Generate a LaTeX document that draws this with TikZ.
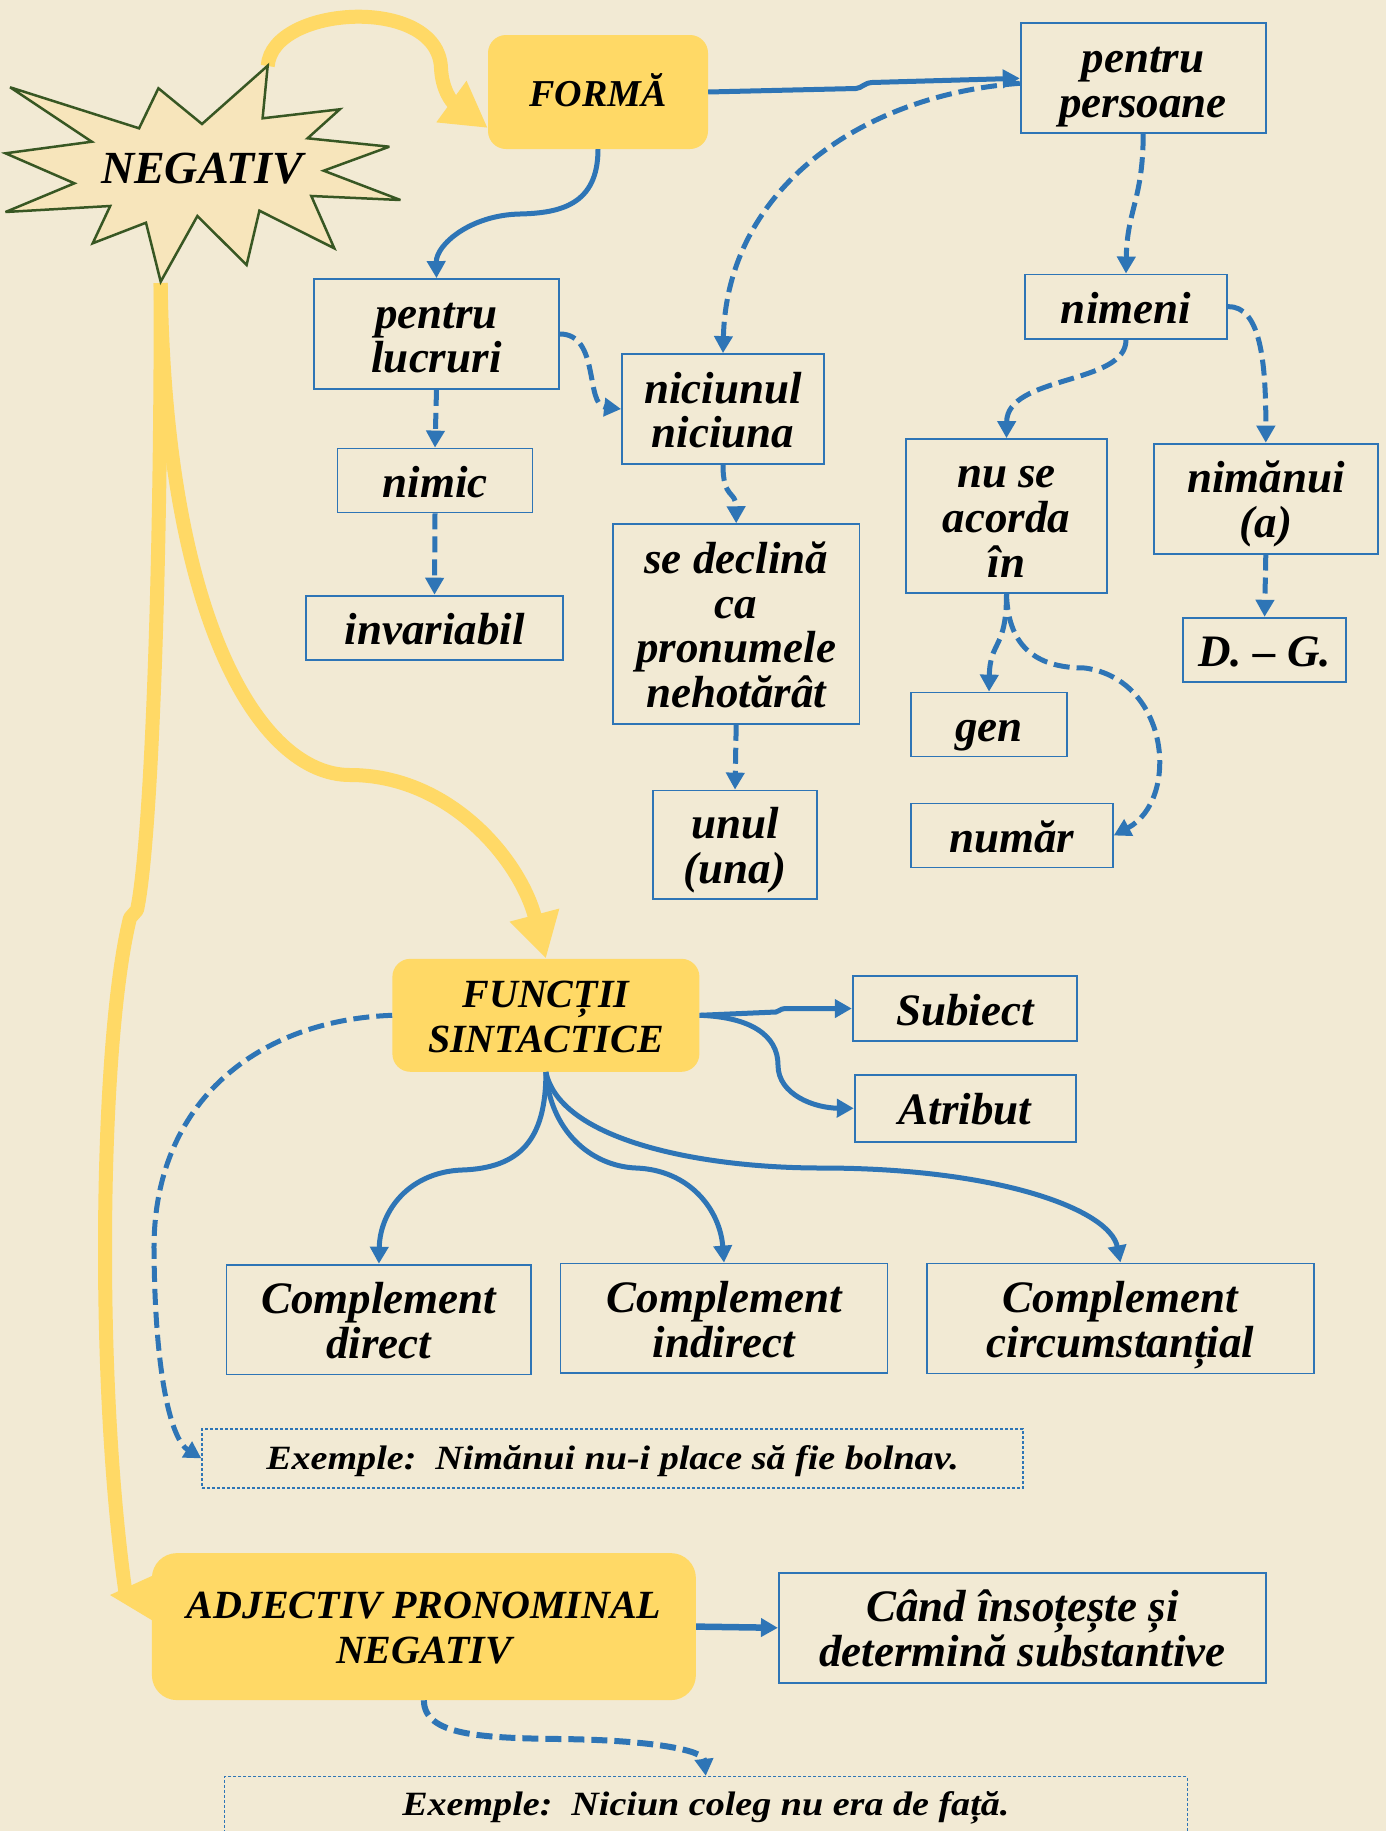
\documentclass[tikz,border=0pt]{standalone}
\usepackage{fontspec}
\setmainfont{Liberation Serif}
\newfontfamily\exfam[FakeStretch=1.12]{Liberation Serif}
\usetikzlibrary{arrows.meta}
\definecolor{bgc}{RGB}{242,234,212}
\definecolor{myyellow}{RGB}{255,217,102}
\definecolor{myblue}{RGB}{46,117,182}
\definecolor{starfill}{RGB}{247,229,187}
\definecolor{stargreen}{RGB}{56,87,35}
\newcommand\mybodyfont{\fontsize{45}{44.8}\selectfont\bfseries\itshape}
\newcommand\myheadfont{\fontsize{40}{44.5}\selectfont\bfseries\itshape}
\newcommand\myexfont{\exfam\fontsize{34}{36}\selectfont\bfseries\itshape}
\newcommand\bstrut{\rule[-12pt]{0pt}{57pt}}
\newcommand\estrut{\rule[-8pt]{0pt}{39pt}}
\newcommand\hstrut{\rule[-6pt]{0pt}{41pt}}
\tikzset{
  bline/.style={draw=myblue, line width=5pt, -{Triangle[length=17pt,width=18pt]}},
  bdash/.style={bline, dash pattern=on 16pt off 7pt},
  yline/.style={draw=myyellow, line width=14pt},
  yarrow/.style={yline, -{Triangle[length=45pt,width=48pt]}},
  bbox/.style={draw=myblue, line width=1.8pt, inner sep=0pt, align=center, font=\mybodyfont,
    execute at begin node=\bstrut, execute at end node=\bstrut},
  hbox/.style={fill=myyellow, rounded corners=18pt, inner sep=0pt, align=center, font=\myheadfont,
    execute at begin node=\hstrut, execute at end node=\hstrut},
  exbox/.style={draw=myblue, line width=1.3pt, dash pattern=on 3pt off 2pt, inner sep=0pt, align=center, font=\myexfont,
    execute at begin node=\estrut, execute at end node=\estrut},
}
\begin{document}
\begin{tikzpicture}[x=1pt,y=-1pt]
\useasboundingbox (0,0) rectangle (1386,1831);
\clip (0,0) rectangle (1386,1831);
\fill[bgc] (0,0) rectangle (1386,1831);

% ---------- boxes ----------
\node[hbox, minimum width=220pt, minimum height=114pt, font=\fontsize{38}{40}\selectfont\bfseries\itshape] (forma) at (598,92) {FORMĂ};
\node[bbox, minimum width=245pt, minimum height=110pt] (pers) at (1143.2,78.3) {\bstrut pentru\\persoane};
\node[bbox, minimum width=202.5pt, minimum height=64.5pt] (nim) at (1126,306.7) {nimeni};
\node[bbox, minimum width=245pt, minimum height=110pt] (luc) at (436.5,334) {\bstrut pentru\\lucruri};
\node[bbox, minimum width=202pt, minimum height=110pt] (nic) at (723,409) {\bstrut niciunul\\niciuna};
\node[bbox, minimum width=195pt, minimum height=64pt] (nimic) at (435,480.5) {nimic};
\node[bbox, minimum width=257pt, minimum height=64pt] (inv) at (434.5,627.6) {invariabil};
\node[bbox, minimum width=246.4pt, minimum height=199.7pt] (decl) at (736.2,624) {\bstrut se declină\\ca\\pronumele\\nehotărât};
\node[bbox, minimum width=164.7pt, minimum height=108.6pt] (unul) at (735,844.8) {\bstrut unul\\(una)};
\node[bbox, minimum width=201pt, minimum height=154pt] (acor) at (1006.5,516) {\bstrut nu se\\acorda\\în};
\node[bbox, minimum width=224pt, minimum height=110pt] (nima) at (1265.8,498.6) {\bstrut nimănui\\(a)};
\node[bbox, minimum width=163.5pt, minimum height=64.2pt] (dg) at (1264.6,649.8) {D. – G.};
\node[bbox, minimum width=156.5pt, minimum height=64pt] (gen) at (989,724.5) {gen};
\node[bbox, minimum width=202pt, minimum height=64pt] (numar) at (1011.8,835.5) {număr};

\node[hbox, minimum width=307pt, minimum height=113pt] (func) at (545.9,1015.3) {\hstrut FUNCȚII\\SINTACTICE};
\node[bbox, minimum width=224.6pt, minimum height=65pt] (subj) at (965,1008.5) {Subiect};
\node[bbox, minimum width=221pt, minimum height=66.7pt] (atr) at (965.2,1108.3) {Atribut};
\node[bbox, minimum width=304.8pt, minimum height=109.8pt] (cd) at (378.9,1319.5) {\bstrut Complement\\direct};
\node[bbox, minimum width=327pt, minimum height=109.8pt] (ci) at (724,1318.4) {\bstrut Complement\\indirect};
\node[bbox, minimum width=386.5pt, minimum height=110pt] (cc) at (1120.4,1318.4) {\bstrut Complement\\circumstanțial};
\node[exbox, minimum width=821pt, minimum height=59pt] (ex1) at (612.5,1458.4) {Exemple:\ \ Nimănui nu-i place să fie bolnav.};

\node[hbox, rounded corners=25pt, minimum width=544pt, minimum height=147pt] (adj) at (423.9,1626.6) {\hstrut ADJECTIV PRONOMINAL\\NEGATIV};
\node[bbox, minimum width=487pt, minimum height=110pt] (cand) at (1022.3,1627.8) {\bstrut Când însoțește și\\determină substantive};
\node[exbox, minimum width=963pt, minimum height=56pt] (ex2) at (705.8,1804.5) {Exemple:\ \ Niciun coleg nu era de față.};

% ---------- yellow connectors ----------
\coordinate (stop) at (267.7,66);
\coordinate (sbot) at (160.7,283);
\coordinate (wtip) at (126,1596);
\draw[yarrow] (stop) .. controls (272,5) and (438,-5) .. (441,68) .. controls (442,90) and (452,102) .. ([yshift=-36pt]forma.west);
\draw[yarrow] (sbot) .. controls (165,620) and (260,775) .. (350,775) .. controls (450,775) and (520,860) .. (func.north);
\draw[yline, line join=round] (sbot) .. controls (161,600) and (150,850) .. (137,910) -- (130,918) .. controls (100,1040) and (95,1380) .. (wtip);
\fill[myyellow] (165,1570) -- (110,1595) -- (165,1628) -- cycle;

% ---------- star ----------
\filldraw[fill=starfill, draw=stargreen, line width=2.5pt, miter limit=4]
  (267.7,65.7) -- (262.6,118.3) -- (339.8,109.3) -- (307.6,138.3) -- (389.3,146.7)
  -- (323.7,170.7) -- (400.4,200) -- (311.3,196) -- (334.3,248.3) -- (259.4,210.7)
  -- (246.6,265) -- (197.4,216) -- (160.7,281.7) -- (146,222.7) -- (92.7,243.3)
  -- (110.2,206) -- (5.5,212) -- (74.4,183.3) -- (5.5,153.3) -- (91.8,141.7)
  -- (10.1,87.3) -- (139.1,128.3) -- (158.4,88.3) -- (202,124) -- cycle;
\node[inner sep=0pt, font=\fontsize{46}{48}\selectfont\bfseries\itshape] (neg) at (202,169) {NEGATIV};

% ---------- blue connectors ----------
\draw[bline] (forma.east) -- (856,88.5) .. controls (862,88) and (864,83) .. (872,82.5) -- (pers.west);
\draw[bdash] ([yshift=-5pt]pers.west) .. controls (860,95) and (727,190) .. (nic.north);
\draw[bline] (forma.south) .. controls (598,205) and (560,213) .. (520,214) .. controls (470,215) and (436,245) .. (luc.north);
\draw[bdash] (pers.south) .. controls (1143,200) and (1127,210) .. (nim.north);
\draw[bdash] (nim.south) .. controls (1126,385) and (1007,375) .. (acor.north);
\draw[bdash] (nim.east) .. controls (1260,306) and (1266,360) .. (nima.north);
\draw[bdash] (luc.east) .. controls (600,334) and (585,405) .. (nic.west);
\draw[bdash] (luc.south) -- (nimic.north);
\draw[bdash] (nimic.south) -- (inv.north);
\draw[bdash] (nic.south) .. controls (723,500) and (736,490) .. (decl.north);
\draw[bdash] (decl.south) -- (unul.north);
\draw[bdash] (acor.south) .. controls (1006.5,650) and (990,640) .. (gen.north);
\draw[bdash] (acor.south) .. controls (1008,650) and (1040,668) .. (1085,668) .. controls (1170,680) and (1180,800) .. (numar.east);
\draw[bdash] (nima.south) -- (dg.north);

\draw[bline] (func.east) -- (776,1012) .. controls (779,1011.5) and (780,1009) .. (784,1008.7) -- (subj.west);
\draw[bline] (func.east) .. controls (750,1017) and (778,1035) .. (778,1065) .. controls (778,1095) and (815,1108) .. (atr.west);
\draw[bline] (func.south) .. controls (546,1140) and (520,1168) .. (462,1170) .. controls (410,1172) and (380,1210) .. (cd.north);
\draw[bline] (func.south) .. controls (550,1130) and (590,1166) .. (636,1168) .. controls (690,1170) and (720,1210) .. (ci.north);
\draw[bline] (func.south) .. controls (560,1140) and (700,1168) .. (821,1168) .. controls (1000,1168) and (1110,1210) .. (cc.north);
\draw[bdash] (func.west) .. controls (260,1020) and (153,1100) .. (154,1250) .. controls (155,1380) and (172,1440) .. (ex1.west);

\draw[bline, line width=6.5pt] (adj.east) -- (cand.west);
\draw[bdash, line width=6pt] (adj.south) .. controls (424,1735) and (480,1738) .. (560,1739) .. controls (650,1740) and (703,1750) .. (ex2.north);
\end{tikzpicture}
\end{document}
